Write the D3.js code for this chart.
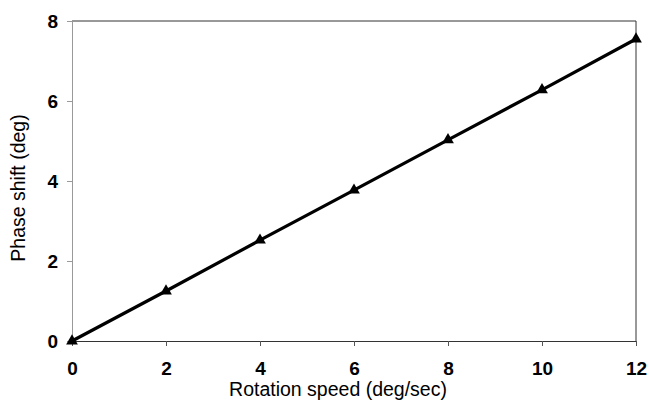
<!DOCTYPE html>
<html>
<head>
<meta charset="utf-8">
<script src="https://cdn.jsdelivr.net/npm/d3@7"></script>
<style>
  body { margin: 0; background: #fff; }
  text { font-family: "Liberation Sans", Arial, sans-serif; }
</style>
</head>
<body>
<svg id="chart" width="649" height="403"></svg>
<script>
// rotation speed vs phase shift
var speeds = [0, 2, 4, 6, 8, 10, 12];
var shifts = [0, 1.25, 2.52, 3.77, 5.03, 6.28, 7.55];
var xTicks = [0, 2, 4, 6, 8, 10, 12];
var yTicks = [0, 2, 4, 6, 8];

var svg = d3.select("#chart");
var m = {left: 72, top: 21, right: 13, bottom: 62};
var w = 649 - m.left - m.right, h = 403 - m.top - m.bottom;

var x = d3.scaleLinear().domain([0, 12]).range([0, w]);
var y = d3.scaleLinear().domain([0, 8]).range([h, 0]);

var g = svg.append("g").attr("transform", "translate(" + m.left + "," + m.top + ")");

// frame: top and right
g.append("line").attr("x1", 0).attr("x2", w).attr("y1", 0).attr("y2", 0)
  .attr("stroke", "#333").attr("stroke-width", 1);
g.append("line").attr("x1", w).attr("x2", w).attr("y1", 0).attr("y2", h)
  .attr("stroke", "#333").attr("stroke-width", 1);

var yAxis = g.append("g")
  .call(d3.axisLeft(y).tickValues(yTicks).tickSize(5).tickPadding(9).tickFormat(d3.format("d")));
yAxis.select(".domain").attr("stroke", "#999");
yAxis.selectAll(".tick line").attr("stroke", "#999");
yAxis.selectAll("text").attr("font-size", 19).attr("font-weight", "bold").attr("fill", "#000");

var xAxis = g.append("g").attr("transform", "translate(0," + h + ")")
  .call(d3.axisBottom(x).tickValues(xTicks).tickSize(5).tickPadding(16).tickFormat(d3.format("d")));
xAxis.select(".domain").attr("stroke", "#333");
xAxis.selectAll(".tick line").attr("stroke", "#555");
xAxis.selectAll("text").attr("font-size", 19).attr("font-weight", "bold").attr("fill", "#000");

var pts = speeds.map(function(s, i) { return [s, shifts[i]]; });

g.append("path").datum(pts)
  .attr("fill", "none").attr("stroke", "#000").attr("stroke-width", 3.2)
  .attr("d", d3.line().x(function(d) { return x(d[0]); }).y(function(d) { return y(d[1]); }));

g.selectAll(".mk").data(pts).enter().append("path")
  .attr("class", "mk")
  .attr("transform", function(d) { return "translate(" + x(d[0]) + "," + y(d[1]) + ")"; })
  .attr("d", d3.symbol().type(d3.symbolTriangle).size(60))
  .attr("fill", "#000");

svg.append("text").attr("x", 338).attr("y", 396)
  .attr("text-anchor", "middle").attr("font-size", 19.5).text("Rotation speed (deg/sec)");
svg.append("text").attr("transform", "translate(25,188) rotate(-90)")
  .attr("text-anchor", "middle").attr("font-size", 19.5).text("Phase shift (deg)");
</script>
</body>
</html>
